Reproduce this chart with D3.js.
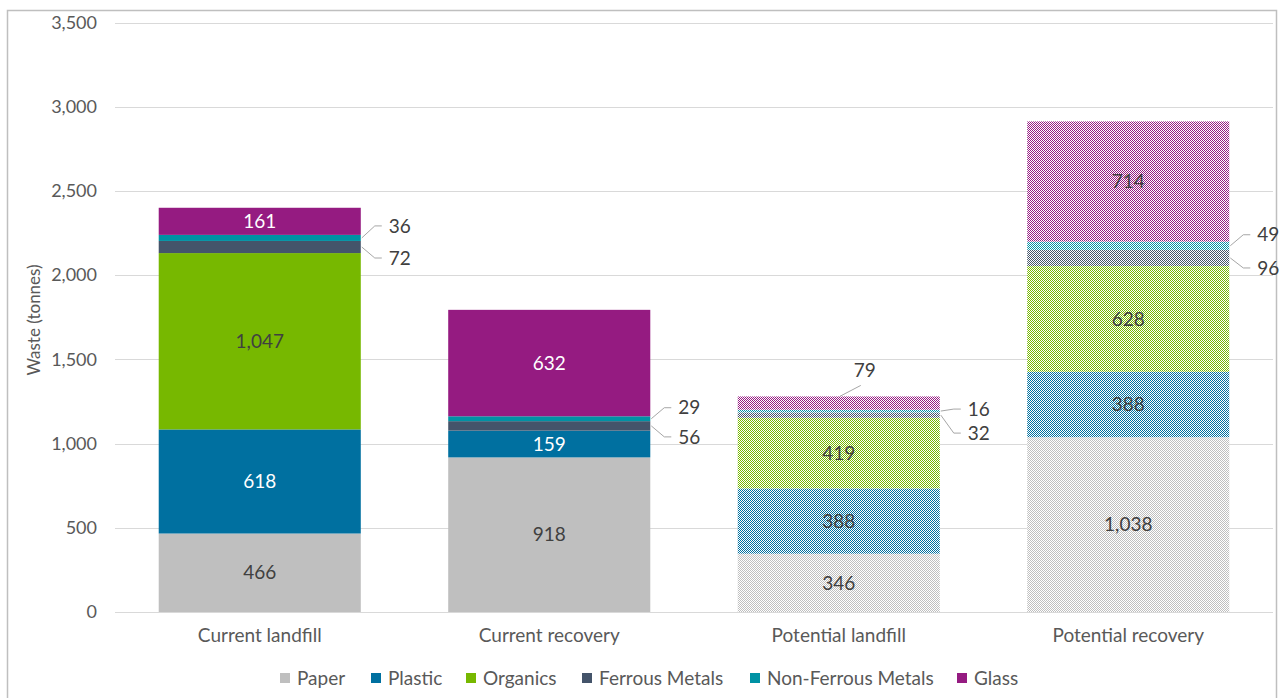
<!DOCTYPE html>
<html><head><meta charset="utf-8">
<script src="https://cdn.jsdelivr.net/npm/d3@7"></script>
<style>body{margin:0;background:#fff}svg{display:block;font-family:Lato,"Open Sans",sans-serif}</style>
</head><body><svg id="c" width="1280" height="698"></svg>
<script>
const categories = ["Current landfill","Current recovery","Potential landfill","Potential recovery"];
const materials = ["Paper","Plastic","Organics","Ferrous Metals","Non-Ferrous Metals","Glass"];
const paper = [466,918,346,1038];
const plastic = [618,159,388,388];
const organics = [1047,0,419,628];
const ferrous = [72,56,32,96];
const nonFerrous = [36,29,16,49];
const glass = [161,632,79,714];
const hatched = [false,false,true,true];
const yTicks = [0,500,1000,1500,2000,2500,3000,3500];
const colors = ["#bfbfbf","#0070a0","#77b800","#44546a","#0092a4","#951b81"];
// which labels are drawn in white on solid bars
const whiteLabel = {"Plastic":true,"Glass":true};
// label placement offsets for small outside labels (layout, not data)
const nfDy = [-12,-11,-2,-11];
const feDy = [11,11,18,10];

const series = [paper,plastic,organics,ferrous,nonFerrous,glass];
const rows = categories.map((c,i)=>{const r={cat:c,i}; materials.forEach((m,j)=>r[m]=series[j][i]); return r;});
const stack = d3.stack().keys(materials)(rows);

const svg = d3.select("#c");
// frame
svg.append("rect").attr("x",7.5).attr("y",10.5).attr("width",1269).attr("height",700).attr("fill","none").attr("stroke","#bfbfbf").attr("stroke-width",1.5);

const x = d3.scaleBand().domain(categories).range([115,1273]).paddingInner(0.302).paddingOuter(0.151);
const y = d3.scaleLinear().domain([0,3500]).range([612,22.5]);

// patterns
const defs = svg.append("defs");
materials.forEach((m,j)=>{
  const p = defs.append("pattern").attr("id","pat"+j).attr("patternUnits","userSpaceOnUse").attr("width",2).attr("height",2);
  p.append("rect").attr("width",2).attr("height",2).attr("fill","#fff");
  p.append("rect").attr("width",1).attr("height",1).attr("fill",colors[j]);
  p.append("rect").attr("x",1).attr("y",1).attr("width",1).attr("height",1).attr("fill",colors[j]);
});

// gridlines
svg.append("g").selectAll("line").data(yTicks.slice(1)).join("line")
  .attr("x1",115).attr("x2",1273).attr("y1",d=>Math.round(y(d))+0.5).attr("y2",d=>Math.round(y(d))+0.5)
  .attr("stroke","#d9d9d9").attr("stroke-width",1);

// y axis labels
const yAxis = d3.axisLeft(y).tickValues(yTicks).tickFormat(d3.format(",")).tickSize(0).tickPadding(0);
const ya = svg.append("g").attr("transform","translate(97,0)").call(yAxis);
ya.select(".domain").remove();
ya.selectAll("text").attr("font-size",18).attr("fill","#595959").attr("font-family","Lato,'Open Sans',sans-serif");

svg.append("text").attr("transform","translate(40,320) rotate(-90)").attr("text-anchor","middle")
  .attr("font-size",17).attr("fill","#595959").text("Waste (tonnes)");

// bars
const gb = svg.append("g");
stack.forEach((s,j)=>{
  gb.selectAll(null).data(s).join("rect")
    .attr("x",d=>x(d.data.cat)).attr("width",x.bandwidth())
    .attr("y",d=>y(d[1])).attr("height",d=>Math.max(0,y(d[0])-y(d[1])))
    .attr("fill",d=>hatched[d.data.i]?`url(#pat${j})`:colors[j]);
});

// x axis
svg.append("line").attr("x1",115).attr("x2",1273).attr("y1",612.5).attr("y2",612.5).attr("stroke","#d9d9d9");
const xa = svg.append("g").attr("transform","translate(0,612)").call(d3.axisBottom(x).tickSize(0).tickPadding(17));
xa.select(".domain").remove();
xa.selectAll("text").attr("font-size",19).attr("fill","#595959").attr("font-family","Lato,'Open Sans',sans-serif");

// labels
const fmt = d3.format(",");
const gl = svg.append("g").attr("font-size",19);
stack.forEach((s,j)=>{
  const m = materials[j];
  s.forEach(d=>{
    const v = d.data[m]; if(!v) return;
    const i = d.data.i;
    const x0 = x(d.data.cat), xr = x0 + x.bandwidth(), xc = x0 + x.bandwidth()/2;
    const mid = (y(d[0])+y(d[1]))/2;
    if(m==="Ferrous Metals"||m==="Non-Ferrous Metals"){
      const ly = mid + (m==="Ferrous Metals"?feDy[i]:nfDy[i]);
      gl.append("polyline").attr("points",`${xr+1},${mid} ${xr+14},${ly} ${xr+21},${ly}`)
        .attr("fill","none").attr("stroke","#a6a6a6").attr("stroke-width",1);
      gl.append("text").attr("x",xr+28).attr("y",ly).attr("dy","0.35em").attr("fill","#404040").text(fmt(v));
    } else if(m==="Glass" && v<100){
      const top = y(d[1]);
      gl.append("line").attr("x1",xc+1).attr("y1",top).attr("x2",xc+22).attr("y2",top-11)
        .attr("stroke","#a6a6a6").attr("stroke-width",1);
      gl.append("text").attr("x",xc+26).attr("y",top-26).attr("dy","0.35em").attr("text-anchor","middle").attr("fill","#404040").text(fmt(v));
    } else {
      const white = !hatched[i] && whiteLabel[m];
      gl.append("text").attr("x",xc).attr("y",mid).attr("dy","0.35em").attr("text-anchor","middle")
        .attr("fill",white?"#ffffff":"#404040").text(fmt(v));
    }
  });
});

// legend
const legX = [280,371,466,582,750,957];
const lg = svg.append("g").attr("font-size",19);
materials.forEach((m,j)=>{
  lg.append("rect").attr("x",legX[j]).attr("y",673).attr("width",10).attr("height",10).attr("fill",colors[j]);
  lg.append("text").attr("x",legX[j]+17).attr("y",678).attr("dy","0.35em").attr("fill","#595959").text(m);
});
</script></body></html>
